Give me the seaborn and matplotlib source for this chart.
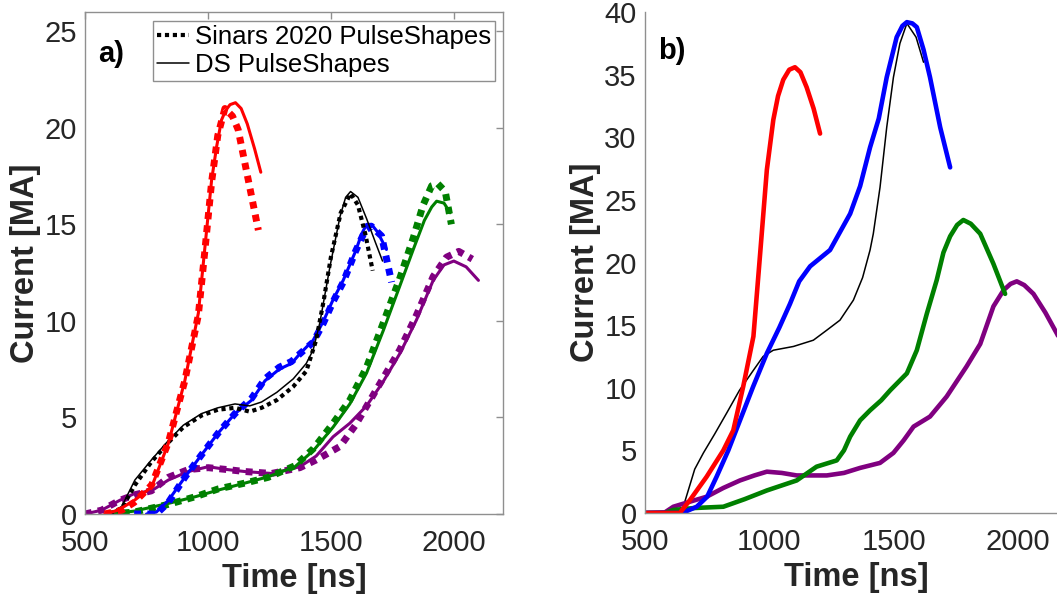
import matplotlib
matplotlib.use("Agg")
import matplotlib.pyplot as plt
from matplotlib.lines import Line2D
import seaborn as sns
import pandas as pd

# ---------------- Panel a) data ----------------
red_ds_t = [580, 635, 700, 771, 839, 906, 961, 988, 1015, 1035, 1055, 1072, 1090, 1112, 1135, 1160, 1190, 1215]
red_ds_i = [0, 0.2, 0.7, 1.4, 3.66, 6.9, 10.4, 13.85, 17.3, 19.0, 20.4, 20.9, 21.2, 21.3, 21.0, 20.2, 18.9, 17.7]
red_si_t = [580, 650, 700, 771, 839, 906, 961, 988, 1015, 1040, 1069, 1100, 1123, 1164, 1205]
red_si_i = [0, 0.2, 0.6, 1.5, 3.7, 6.9, 10.3, 13.7, 17.2, 19.6, 21.0, 20.6, 19.9, 17.3, 14.7]

blk_ds_t = [600, 650, 703, 770, 839, 900, 974, 1040, 1110, 1170, 1218, 1280, 1347, 1400, 1428, 1455, 1496, 1537, 1560, 1580, 1610, 1645, 1680, 1710]
blk_ds_i = [0, 0.4, 1.76, 2.8, 3.8, 4.6, 5.2, 5.5, 5.7, 5.6, 5.8, 6.3, 7.0, 7.8, 8.5, 9.9, 12.8, 15.4, 16.4, 16.7, 16.4, 15.3, 14.1, 13.1]
blk_si_t = [600, 650, 703, 770, 839, 900, 974, 1040, 1110, 1170, 1218, 1280, 1347, 1400, 1440, 1470, 1500, 1540, 1580, 1610, 1640, 1670]
blk_si_i = [0, 0.3, 1.5, 2.7, 3.7, 4.5, 5.1, 5.4, 5.5, 5.3, 5.5, 5.9, 6.6, 7.4, 9.0, 11.0, 13.3, 15.6, 16.6, 16.0, 14.5, 12.6]

blu_ds_t = [750, 790, 839, 906, 970, 1042, 1110, 1178, 1232, 1290, 1340, 1374, 1428, 1470, 1509, 1550, 1600, 1625, 1645, 1665, 1690, 1726]
blu_ds_i = [0, 0.1, 0.7, 1.9, 3.0, 4.2, 5.2, 5.9, 6.9, 7.5, 7.8, 8.3, 9.0, 10.0, 11.1, 12.1, 13.6, 14.5, 15.0, 15.0, 14.6, 13.7]
blu_si_t = [700, 790, 839, 906, 970, 1042, 1110, 1178, 1232, 1290, 1340, 1374, 1428, 1470, 1509, 1550, 1600, 1640, 1665, 1706, 1747]
blu_si_i = [0, 0, 0.6, 1.9, 3.0, 4.2, 5.2, 6.0, 7.0, 7.6, 7.9, 8.3, 8.9, 9.9, 11.0, 12.0, 13.6, 14.7, 14.9, 14.4, 12.0]

grn_ds_t = [600, 700, 839, 950, 1042, 1150, 1245, 1354, 1430, 1509, 1577, 1645, 1713, 1780, 1835, 1880, 1910, 1930, 1960, 1985]
grn_ds_i = [0, 0.15, 0.55, 0.9, 1.24, 1.6, 1.93, 2.45, 3.3, 4.5, 5.7, 7.3, 9.5, 11.8, 13.7, 15.2, 15.9, 16.2, 16.1, 15.6]
grn_si_t = [600, 700, 839, 950, 1042, 1150, 1245, 1354, 1430, 1509, 1577, 1645, 1713, 1780, 1835, 1875, 1910, 1935, 1965, 1990]
grn_si_i = [0, 0.1, 0.5, 0.9, 1.3, 1.6, 1.9, 2.5, 3.4, 4.7, 5.9, 7.6, 9.9, 12.2, 14.3, 16.0, 17.0, 17.1, 16.7, 15.0]

pur_ds_t = [500, 568, 640, 703, 770, 839, 920, 1001, 1080, 1150, 1259, 1374, 1440, 1509, 1577, 1645, 1710, 1780, 1848, 1916, 1960, 2000, 2050, 2100]
pur_ds_i = [0, 0.2, 0.7, 1.07, 1.2, 1.76, 2.2, 2.45, 2.3, 2.2, 2.1, 2.45, 3.0, 4.0, 4.7, 5.6, 6.8, 8.3, 10.05, 12.1, 12.9, 13.1, 12.8, 12.1]
pur_si_t = [500, 568, 640, 703, 770, 839, 920, 1001, 1080, 1150, 1259, 1374, 1440, 1482, 1537, 1600, 1660, 1720, 1780, 1848, 1916, 1970, 2020, 2075]
pur_si_i = [0, 0.2, 0.7, 1.0, 1.2, 1.9, 2.3, 2.4, 2.3, 2.2, 2.1, 2.4, 2.8, 3.1, 3.5, 4.6, 5.9, 7.2, 8.5, 10.3, 12.3, 13.3, 13.6, 13.2]

# ---------------- Panel b) data ----------------
b_red_t = [500, 640, 681, 748, 815, 855, 895, 936, 963, 990, 1016, 1035, 1056, 1080, 1103, 1125, 1150, 1178, 1204]
b_red_i = [0, 0, 1.04, 2.9, 5.0, 6.6, 10.1, 14.1, 20.7, 27.4, 31.4, 33.3, 34.6, 35.4, 35.6, 35.2, 34.0, 32.3, 30.3]
b_blk_t = [500, 640, 654, 700, 735, 780, 829, 880, 936, 975, 1016, 1097, 1177, 1231, 1284, 1338, 1375, 1405, 1418, 1445, 1472, 1499, 1525, 1553, 1590, 1620]
b_blk_i = [0, 0, 0.5, 3.5, 4.8, 6.3, 8.0, 9.8, 11.4, 12.5, 13.0, 13.3, 13.8, 14.6, 15.4, 17.0, 18.8, 21.0, 22.3, 26.0, 30.8, 34.8, 37.5, 39.1, 38.0, 36.0]
b_blu_t = [500, 650, 708, 750, 788, 835, 882, 935, 990, 1040, 1083, 1120, 1164, 1244, 1325, 1365, 1405, 1440, 1472, 1512, 1535, 1553, 1575, 1593, 1620, 1646, 1687, 1727]
b_blu_i = [0, 0, 0.5, 1.3, 2.9, 5.0, 7.4, 10.1, 12.75, 14.8, 16.7, 18.5, 19.7, 21.0, 23.9, 26.1, 29.2, 31.5, 34.8, 38.0, 38.9, 39.2, 39.1, 38.8, 37.0, 34.8, 30.8, 27.6]
b_grn_t = [500, 580, 614, 700, 815, 900, 990, 1110, 1190, 1271, 1300, 1325, 1365, 1405, 1450, 1486, 1553, 1593, 1633, 1673, 1700, 1727, 1755, 1780, 1810, 1848, 1901, 1948]
b_grn_i = [0, 0, 0.24, 0.4, 0.5, 1.1, 1.8, 2.6, 3.7, 4.2, 5.0, 6.1, 7.4, 8.2, 9.0, 9.8, 11.15, 13.0, 15.9, 18.6, 20.8, 22.1, 23.0, 23.4, 23.1, 22.3, 19.9, 17.5]
b_pur_t = [500, 580, 614, 680, 748, 815, 882, 940, 990, 1050, 1110, 1170, 1231, 1300, 1365, 1445, 1499, 1540, 1580, 1646, 1713, 1793, 1848, 1901, 1942, 1970, 1995, 2025, 2062, 2110, 2157, 2190]
b_pur_i = [0, 0.05, 0.5, 0.9, 1.3, 2.0, 2.6, 3.0, 3.3, 3.2, 3.0, 3.0, 3.0, 3.2, 3.6, 4.0, 4.8, 5.8, 6.9, 7.7, 9.3, 11.7, 13.5, 16.5, 17.8, 18.3, 18.5, 18.2, 17.5, 16.0, 14.3, 13.0]

x_ticks = [500, 1000, 1500, 2000]
ya_ticks = [0, 5, 10, 15, 20, 25]
yb_ticks = [0, 5, 10, 15, 20, 25, 30, 35, 40]
legend_labels = ["Sinars 2020 PulseShapes", "DS PulseShapes"]

RED, BLUE, GREEN, PURPLE, BLACK = "#ff0000", "#0000ff", "#008000", "#800080", "#000000"

sns.set_style("white")
plt.rcParams["font.family"] = ["Liberation Sans", "DejaVu Sans"]

fig = plt.figure(figsize=(10.57, 5.97), dpi=100)
axa = fig.add_axes([0.0804, 0.139, 0.3955, 0.841])
axb = fig.add_axes([0.6102, 0.1407, 0.400, 0.839])

dot = (0, (1, 0.9))


def draw(ax, t, i, color, lw, ls="-"):
    df = pd.DataFrame({"t": t, "i": i})
    sns.lineplot(data=df, x="t", y="i", ax=ax, color=color, linewidth=lw,
                 linestyle=ls, sort=False, estimator=None, legend=False)


# panel a: dotted (Sinars) thick, solid (DS) thinner
draw(axa, pur_si_t, pur_si_i, PURPLE, 5.0, dot)
draw(axa, pur_ds_t, pur_ds_i, PURPLE, 2.2)
draw(axa, grn_si_t, grn_si_i, GREEN, 5.0, dot)
draw(axa, grn_ds_t, grn_ds_i, GREEN, 2.2)
draw(axa, blu_si_t, blu_si_i, BLUE, 5.0, dot)
draw(axa, blu_ds_t, blu_ds_i, BLUE, 2.2)
draw(axa, blk_si_t, blk_si_i, BLACK, 3.0, dot)
draw(axa, blk_ds_t, blk_ds_i, BLACK, 1.1)
draw(axa, red_si_t, red_si_i, RED, 5.0, dot)
draw(axa, red_ds_t, red_ds_i, RED, 2.2)

# panel b
draw(axb, b_blk_t, b_blk_i, BLACK, 1.1)
draw(axb, b_pur_t, b_pur_i, PURPLE, 3.3)
draw(axb, b_grn_t, b_grn_i, GREEN, 3.3)
draw(axb, b_blu_t, b_blu_i, BLUE, 3.3)
draw(axb, b_red_t, b_red_i, RED, 3.3)

GRAY = "#8f8f8f"
TXT = "#262626"
for ax, yt, ylim in [(axa, ya_ticks, (0, 26)), (axb, yb_ticks, (0, 40))]:
    ax.set_xlim(500, 2200)
    ax.set_ylim(*ylim)
    ax.set_xticks(x_ticks)
    ax.set_yticks(yt)
    ax.set_xlabel("Time [ns]", fontsize=23.5, fontweight="bold", color=TXT, labelpad=4)
    ax.set_ylabel("Current [MA]", fontsize=23.5, fontweight="bold", color=TXT, labelpad=2)
    ax.tick_params(direction="in", length=5, width=1, color=GRAY,
                   labelsize=21, labelcolor=TXT)
    ax.tick_params(axis="x", pad=11)
    ax.tick_params(axis="y", pad=6)
    for s in ax.spines.values():
        s.set_color(GRAY)
        s.set_linewidth(1)

axa.tick_params(top=True, right=True)
axb.spines["top"].set_visible(False)
axb.spines["right"].set_visible(False)

handles = [Line2D([], [], color=BLACK, lw=3.0, linestyle=dot),
           Line2D([], [], color=BLACK, lw=1.1)]
leg = axa.legend(handles, legend_labels, loc="upper right",
                 bbox_to_anchor=(0.981, 0.982), borderaxespad=0,
                 fontsize=18.5, frameon=True, fancybox=False, framealpha=1,
                 handlelength=1.25, handletextpad=0.25, borderpad=0.15,
                 labelspacing=0.15)
leg.get_frame().set_edgecolor(GRAY)
leg.get_frame().set_linewidth(1)
for txt in leg.get_texts():
    txt.set_color(BLACK)

axa.text(0.031, 0.945, "a)", transform=axa.transAxes, fontsize=21,
         fontweight="bold", va="top", ha="left", color=BLACK)
axb.text(0.031, 0.95, "b)", transform=axb.transAxes, fontsize=21,
         fontweight="bold", va="top", ha="left", color=BLACK)

fig.savefig("out.png", dpi=100)
